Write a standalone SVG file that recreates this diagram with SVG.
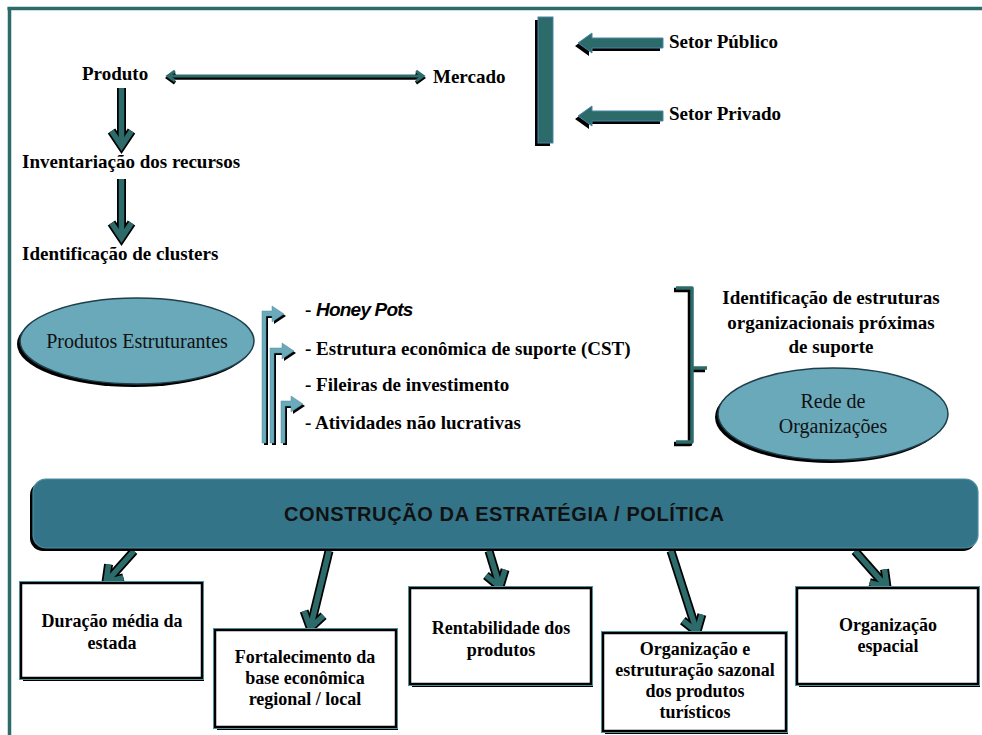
<svg xmlns="http://www.w3.org/2000/svg" width="982" height="735" viewBox="0 0 982 735">
<style>
.t{font-family:"Liberation Serif","Times New Roman",serif;font-weight:bold;font-size:19px;fill:#000}
.bx{font-family:"Liberation Serif","Times New Roman",serif;font-weight:bold;font-size:18px;fill:#000;text-anchor:middle}
.r{font-family:"Liberation Serif","Times New Roman",serif;font-size:20px;fill:#111;text-anchor:middle}
.box{fill:#fff;stroke:#000;stroke-width:2.5}
.boxo{fill:none;stroke:#4f8f9c;stroke-width:1}
.sh{fill:#000}
.ell{fill:#69a9ba;stroke:#1f3f4c;stroke-width:1.5}
.blk{fill:none;stroke:#000;stroke-width:9;marker-end:url(#chk)}
.teal{fill:none;stroke:#2d6b6b;stroke-width:5.5;marker-end:url(#cht)}
.bent{fill:#6aaabb;stroke:#4f8fa0;stroke-width:0.5}
.blok{fill:#2d6b6b;stroke:#4a85a8;stroke-width:1}
</style>
<defs>
<marker id="chk" markerUnits="userSpaceOnUse" viewBox="-25 -15 40 30" markerWidth="40" markerHeight="30" refX="-3" refY="0" orient="auto" overflow="visible">
<path d="M-15,-10 L0,0 L-15,10" fill="none" stroke="#000" stroke-width="9"/>
</marker>
<marker id="cht" markerUnits="userSpaceOnUse" viewBox="-25 -15 40 30" markerWidth="40" markerHeight="30" refX="-3" refY="0" orient="auto" overflow="visible">
<path d="M-15,-10 L0,0 L-15,10" fill="none" stroke="#2d6b6b" stroke-width="5.5"/>
</marker>
<marker id="sk" markerUnits="userSpaceOnUse" viewBox="-10 -8 14 16" markerWidth="14" markerHeight="16" refX="0" refY="0" orient="auto-start-reverse" overflow="visible">
<path d="M-7,-5 L0,0 L-7,5" fill="none" stroke="#000" stroke-width="3.5"/>
</marker>
<marker id="st" markerUnits="userSpaceOnUse" viewBox="-10 -8 14 16" markerWidth="14" markerHeight="16" refX="0" refY="0" orient="auto-start-reverse" overflow="visible">
<path d="M-7,-5 L0,0 L-7,5" fill="none" stroke="#2d6b6b" stroke-width="3"/>
</marker>
</defs>

<g id="frame">
<line x1="7.5" y1="8.5" x2="982" y2="8.5" stroke="#2d6b6b" stroke-width="3.5"/>
<line x1="9.5" y1="7" x2="9.5" y2="735" stroke="#2d6b6b" stroke-width="3.5"/>
</g>

<g id="connectors">
<path d="M168,78 H423" fill="none" stroke="#000" stroke-width="3.5" marker-start="url(#sk)" marker-end="url(#sk)"/>
<path d="M168,76 H423" fill="none" stroke="#2d6b6b" stroke-width="3" marker-start="url(#st)" marker-end="url(#st)"/>
<path class="blk" d="M121.5,88 V143"/>
<path class="blk" d="M121.5,179 V235"/>
<path class="teal" d="M121.5,88 V143"/>
<path class="teal" d="M121.5,179 V235"/>
<path class="blk" d="M134,551 L108,580"/>
<path class="blk" d="M329,551 L311,625"/>
<path class="blk" d="M489,551 L499,584"/>
<path class="blk" d="M671,551 L696,629"/>
<path class="blk" d="M855,551 L885,585"/>
<path class="teal" d="M134,551 L108,580"/>
<path class="teal" d="M329,551 L311,625"/>
<path class="teal" d="M489,551 L499,584"/>
<path class="teal" d="M671,551 L696,629"/>
<path class="teal" d="M855,551 L885,585"/>
<g id="setor-arrows">
<path class="sh" d="M575,46 L589,36 L589,41 L660,41 L660,51 L589,51 L589,56 Z"/>
<path class="blok" d="M578,43 L592,33 L592,38 L663,38 L663,48 L592,48 L592,53 Z"/>
<path class="sh" d="M575,119 L589,109 L589,114 L660,114 L660,124 L589,124 L589,129 Z"/>
<path class="blok" d="M578,116 L592,106 L592,111 L663,111 L663,121 L592,121 L592,126 Z"/>
</g>
<g id="bent-arrows">
<path class="sh" d="M264,445 V313 H274 V308 L286,316 L274,324 V318 H268 V445 Z"/>
<path class="bent" d="M262,443 V311 H272 V306 L284,314 L272,322 V316 H266 V443 Z"/>
<path class="sh" d="M272,445 V350 H284 V345 L296,353 L284,361 V355 H276 V445 Z"/>
<path class="bent" d="M270,443 V348 H282 V343 L294,351 L282,359 V353 H274 V443 Z"/>
<path class="sh" d="M283,445 V403 H293 V398 L305,406 L293,414 V408 H287 V445 Z"/>
<path class="bent" d="M281,443 V401 H291 V396 L303,404 L291,412 V406 H285 V443 Z"/>
</g>
<g id="bracket">
<path d="M674,290 H690 V370 H705 M690,370 V444 H674" fill="none" stroke="#000" stroke-width="4.5" stroke-linejoin="round"/>
<path d="M676,288 H692 V368 H707 M692,368 V442 H676" fill="none" stroke="#2d6b6b" stroke-width="3.5" stroke-linejoin="round"/>
</g>
</g>

<g id="produto"><text class="t" x="82" y="80">Produto</text></g>
<g id="mercado"><text class="t" x="433" y="83">Mercado</text></g>
<g id="inventariacao"><text class="t" x="22" y="168">Inventariação dos recursos</text></g>
<g id="clusters"><text class="t" x="22" y="260">Identificação de clusters</text></g>

<g id="setor-bar">
<rect x="535" y="20" width="15" height="126" class="sh"/>
<rect x="538" y="17" width="15" height="126" class="blok"/>
</g>
<g id="setor-publico"><text class="t" x="669" y="48">Setor Público</text></g>
<g id="setor-privado"><text class="t" x="669" y="120">Setor Privado</text></g>

<g id="produtos-estruturantes">
<ellipse cx="134" cy="344" rx="117" ry="43" class="sh"/>
<ellipse cx="137" cy="341" rx="117" ry="43" class="ell"/>
<text class="r" x="137" y="348">Produtos Estruturantes</text>
</g>

<g id="lista">
<text class="t" x="305" y="316">- <tspan font-family="'Liberation Sans',Arial,sans-serif" font-style="italic" font-size="19" letter-spacing="-0.8">Honey Pots</tspan></text>
<text class="t" x="305" y="355">- Estrutura econômica de suporte (CST)</text>
<text class="t" x="305" y="391">- Fileiras de investimento</text>
<text class="t" x="305" y="429">- Atividades não lucrativas</text>
</g>

<g id="identificacao-estruturas">
<text class="t" x="831" y="304" text-anchor="middle">Identificação de estruturas</text>
<text class="t" x="831" y="329" text-anchor="middle">organizacionais próximas</text>
<text class="t" x="831" y="353" text-anchor="middle">de suporte</text>
</g>

<g id="rede-organizacoes">
<ellipse cx="830" cy="417" rx="115" ry="46" class="sh"/>
<ellipse cx="833" cy="414" rx="115" ry="46" class="ell"/>
<text class="r" x="833" y="408">Rede de</text>
<text class="r" x="833" y="433">Organizações</text>
</g>

<g id="estrategia">
<rect x="30" y="482" width="946" height="69" rx="13" class="sh"/>
<rect x="33" y="479" width="945" height="69" rx="13" fill="#337489" stroke="#4d8fa3" stroke-width="1.2"/>
<text x="504" y="521" text-anchor="middle" textLength="440" lengthAdjust="spacing" font-family="'Liberation Sans',Arial,sans-serif" font-weight="bold" font-size="20" fill="#111">CONSTRUÇÃO DA ESTRATÉGIA / POLÍTICA</text>
</g>

<g id="duracao">
<rect x="23" y="586" width="181" height="95" class="sh"/>
<rect x="21" y="583" width="181" height="95" class="box"/>
<rect x="19.5" y="581.5" width="184" height="98" class="boxo"/>
<text class="bx" x="112" y="627">Duração média da</text>
<text class="bx" x="112" y="649">estada</text>
</g>

<g id="fortalecimento">
<rect x="217" y="633" width="181" height="97" class="sh"/>
<rect x="215" y="630" width="181" height="97" class="box"/>
<rect x="213.5" y="628.5" width="184" height="100" class="boxo"/>
<text class="bx" x="305" y="663">Fortalecimento da</text>
<text class="bx" x="305" y="684">base econômica</text>
<text class="bx" x="305" y="705">regional / local</text>
</g>

<g id="rentabilidade">
<rect x="412" y="591" width="181" height="96" class="sh"/>
<rect x="410" y="588" width="181" height="96" class="box"/>
<rect x="408.5" y="586.5" width="184" height="99" class="boxo"/>
<text class="bx" x="501" y="634">Rentabilidade dos</text>
<text class="bx" x="501" y="656">produtos</text>
</g>

<g id="sazonal">
<rect x="605" y="636" width="183" height="98" class="sh"/>
<rect x="603" y="633" width="183" height="98" class="box"/>
<rect x="601.5" y="631.5" width="186" height="101" class="boxo"/>
<text class="bx" x="695" y="655">Organização e</text>
<text class="bx" x="695" y="676">estruturação sazonal</text>
<text class="bx" x="695" y="697">dos produtos</text>
<text class="bx" x="695" y="718">turísticos</text>
</g>

<g id="espacial">
<rect x="799" y="591" width="181" height="96" class="sh"/>
<rect x="797" y="588" width="181" height="96" class="box"/>
<rect x="795.5" y="586.5" width="184" height="99" class="boxo"/>
<text class="bx" x="888" y="631">Organização</text>
<text class="bx" x="888" y="652">espacial</text>
</g>
</svg>
